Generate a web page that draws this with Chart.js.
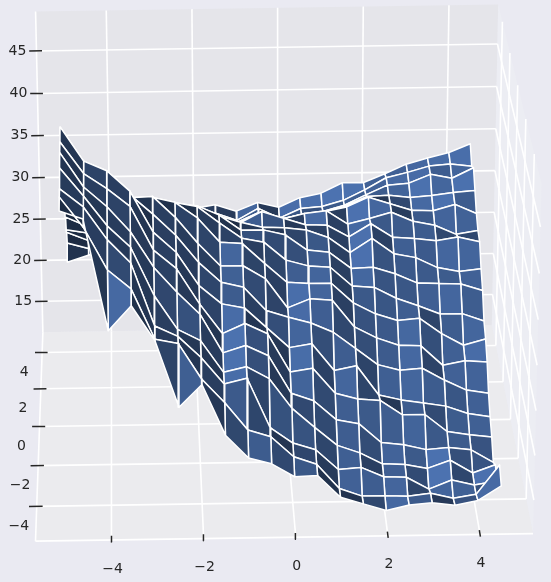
<!DOCTYPE html>
<html>
<head>
<meta charset="utf-8">
<title>Surface</title>
<style>
  html, body { margin: 0; padding: 0; background: #eaeaf2; }
  canvas { display: block; }
</style>
<script src="https://cdn.jsdelivr.net/npm/chart.js@4"></script>
</head>
<body>
<canvas id="chart" width="551" height="582"></canvas>
<script>
const xValues = [-5, -4.5, -4, -3.5, -3, -2.5, -2, -1.5, -1, -0.5, 0, 0.5, 1, 1.5, 2, 2.5, 3, 3.5, 4, 4.5];
const yValues = [-5, -4.5, -4, -3.5, -3, -2.5, -2, -1.5, -1, -0.5, 0, 0.5, 1, 1.5, 2, 2.5, 3, 3.5, 4, 4.5];
// one row per y value, front to back
const zValues = [
  [46.2,45.3,33.1,35.8,31.9,24.5,27.0,21.3,18.7,18.0,16.5,16.6,14.1,13.3,12.5,13.1,13.3,13.0,13.5,15.1],
  [46.7,43.4,38.7,36.6,31.0,30.5,26.5,23.8,20.7,19.9,17.6,16.7,13.9,13.0,13.0,12.9,13.2,12.6,13.0,16.3],
  [46.6,44.6,41.0,38.4,31.4,30.2,27.8,24.8,25.4,19.8,18.0,17.2,14.9,15.1,14.0,13.9,12.5,13.5,12.9,13.3],
  [47.9,44.8,41.5,39.1,33.7,29.9,28.6,25.0,25.6,24.2,20.8,18.6,16.5,15.6,14.3,14.2,13.7,14.6,13.1,14.0],
  [48.6,44.8,42.6,39.8,35.8,33.0,30.5,26.1,26.9,25.7,21.4,20.5,18.3,17.8,15.6,15.3,14.7,14.9,14.6,13.1],
  [48.8,45.3,43.6,41.6,36.7,34.6,30.6,27.2,28.3,27.1,22.7,23.1,20.2,19.5,19.3,17.6,17.6,15.6,15.2,14.9],
  [49.5,45.7,44.6,42.3,37.7,35.4,31.6,29.5,29.0,26.7,24.4,24.8,21.7,22.2,18.8,18.2,17.8,17.4,16.5,16.1],
  [47.7,43.9,43.3,40.9,38.7,36.3,33.2,30.9,30.3,27.6,26.8,26.1,25.0,23.1,21.2,20.5,20.7,19.3,18.1,17.7],
  [45.8,42.0,41.2,39.6,39.7,37.3,34.3,31.7,31.7,30.2,26.8,27.8,27.6,24.5,23.2,22.3,22.2,19.9,20.4,20.2],
  [43.7,40.1,38.4,37.8,38.6,38.0,36.2,33.4,33.2,30.9,28.7,28.5,28.5,26.2,24.9,24.1,24.3,22.5,21.1,21.8],
  [41.6,38.1,36.5,36.0,37.0,37.0,36.5,34.6,32.8,32.3,30.2,29.5,29.3,27.1,26.9,25.6,24.7,23.7,23.7,22.8],
  [39.1,35.9,34.7,34.3,35.6,35.8,35.6,34.5,32.7,32.7,32.1,30.3,30.0,28.1,28.2,27.4,26.3,26.2,26.1,25.3],
  [36.7,34.1,32.9,32.8,34.2,34.6,34.6,33.4,32.6,32.0,31.9,31.6,30.7,28.9,30.5,28.7,28.2,27.0,26.5,26.8],
  [34.6,32.4,31.2,31.5,32.9,33.5,33.6,32.3,31.5,32.8,32.0,31.2,31.1,29.7,31.2,29.6,29.4,29.1,29.5,28.9],
  [32.3,30.9,29.7,30.2,31.6,32.4,32.5,31.2,30.5,31.6,30.9,31.5,31.8,30.2,30.8,31.5,30.4,29.9,28.8,29.2],
  [30.5,29.4,28.2,29.0,30.3,31.3,31.4,30.2,29.5,30.6,29.9,30.4,30.7,31.2,32.3,31.5,30.7,30.6,31.3,30.2],
  [28.0,27.6,26.9,27.7,29.1,30.1,30.4,29.3,28.5,29.6,28.9,29.4,29.7,30.3,31.4,31.5,31.2,31.4,31.7,31.9],
  [26.7,25.7,25.7,26.6,27.9,28.9,29.3,28.4,27.6,28.7,27.8,28.4,28.7,29.4,30.6,31.7,31.9,32.9,32.4,33.6],
  [24.4,23.7,24.3,25.3,26.6,27.8,28.3,27.7,26.8,28.2,27.0,28.1,28.3,29.0,30.2,31.6,32.2,32.9,33.1,32.8],
  [21.1,21.9,23.0,24.2,25.4,26.5,27.3,27.7,26.9,27.9,27.3,28.4,28.9,30.1,30.1,31.1,32.2,32.9,33.5,34.5]
];
const xTicks = [-4, -2, 0, 2, 4];
const yTicks = [-4, -2, 0, 2, 4];
const zTicks = [15, 20, 25, 30, 35, 40, 45];
const xLim = [-5.65, 5.15];
const yLim = [-5.65, 5.15];
const zLim = [11.2, 49.6];

// camera fitted to the picture
function project(x, y, z) {
  const dy = y + 5.5;
  const dz = z - zLim[0];
  const w = 1 + 0.01 * dy - 0.00085 * dz;
  return {
    x: (295.5 + 46 * x + 1.11 * dy - 0.24 * dz) / w,
    y: (534 - 0.7 * x - 16 * dy - 9.25 * dz) / w
  };
}
function depth(x, y, z) {
  return 0.01 * (y + 5.5) - 0.00085 * (z - zLim[0]);
}

const BASE_RGB = [76, 114, 176];
const LIGHT = [-0.667, -0.667, 0.333];

function cellColor(r, c) {
  const dx = xValues[c + 1] - xValues[c];
  const dy = yValues[r + 1] - yValues[r];
  const a = [dx, dy, zValues[r + 1][c + 1] - zValues[r][c]];
  const b = [-dx, dy, zValues[r + 1][c] - zValues[r][c + 1]];
  const n = [a[1] * b[2] - a[2] * b[1], a[2] * b[0] - a[0] * b[2], a[0] * b[1] - a[1] * b[0]];
  const len = Math.hypot(n[0], n[1], n[2]);
  const shade = (n[0] * LIGHT[0] + n[1] * LIGHT[1] + n[2] * LIGHT[2]) / len;
  const k = 0.3 + 0.7 * (shade + 1) / 2;
  return `rgb(${BASE_RGB.map(v => Math.round(v * k)).join(',')})`;
}

function polyData(pts) {
  return pts.map(p => project(p[0], p[1], p[2]));
}
function shapeSet(pts, fillColor, lineColor, lineWidth) {
  return {
    data: polyData(pts),
    showLine: true,
    fill: fillColor ? 'shape' : false,
    backgroundColor: fillColor || 'transparent',
    borderColor: lineColor || 'transparent',
    borderWidth: lineWidth,
    borderJoinStyle: 'round',
    pointRadius: 0,
    tension: 0
  };
}

function buildDatasets() {
  const [x0, x1] = xLim, [y0, y1] = yLim, [z0, z1] = zLim;
  const sets = [];
  // panes
  sets.push(shapeSet([[x0, y1, z0], [x1, y1, z0], [x1, y1, z1], [x0, y1, z1], [x0, y1, z0]], '#e5e5ea', null, 0));
  sets.push(shapeSet([[x1, y0, z0], [x1, y1, z0], [x1, y1, z1], [x1, y0, z1], [x1, y0, z0]], '#ecedf3', null, 0));
  sets.push(shapeSet([[x0, y0, z0], [x1, y0, z0], [x1, y1, z0], [x0, y1, z0], [x0, y0, z0]], '#ebebee', null, 0));
  // grid
  const grid = (a, b) => sets.push(shapeSet([a, b], null, '#ffffff', 1.6));
  xTicks.forEach(x => {
    grid([x, y0, z0], [x, y1, z0]);
    grid([x, y1, z0], [x, y1, z1]);
  });
  yTicks.forEach(y => {
    grid([x0, y, z0], [x1, y, z0]);
    grid([x1, y, z0], [x1, y, z1]);
  });
  zTicks.forEach(z => {
    grid([x0, y1, z], [x1, y1, z]);
    grid([x1, y1, z], [x1, y0, z]);
  });
  // axis lines
  grid([x0, y0, z0], [x1, y0, z0]);
  grid([x0, y0, z0], [x0, y1, z0]);
  grid([x0, y1, z0], [x0, y1, z1]);
  // tick marks
  const tick = (a, b) => sets.push(shapeSet([a, b], null, '#262626', 1.5));
  xTicks.forEach(x => tick([x, y0 - 0.1, z0], [x, y0 + 0.2, z0]));
  yTicks.forEach(y => tick([x0 - 0.17, y, z0], [x0 + 0.13, y, z0]));
  zTicks.forEach(z => tick([x0 - 0.17, y1, z], [x0 + 0.13, y1, z]));
  // surface cells, far ones painted first
  const cells = [];
  for (let r = 0; r < yValues.length - 1; r++) {
    for (let c = 0; c < xValues.length - 1; c++) {
      const corners = [[c, r], [c + 1, r], [c + 1, r + 1], [c, r + 1]].map(([i, j]) => [xValues[i], yValues[j], zValues[j][i]]);
      const d = corners.reduce((s, p) => s + depth(p[0], p[1], p[2]), 0) / 4;
      cells.push({ d, corners, color: cellColor(r, c) });
    }
  }
  cells.sort((a, b) => b.d - a.d);
  cells.forEach(cell => {
    sets.push(shapeSet(cell.corners.concat([cell.corners[0]]), cell.color, '#ffffff', 1.5));
  });
  // chart.js paints the first dataset last
  return sets.reverse();
}

function fmt(v) {
  return String(v).replace('-', '\u2212');
}

const tickLabels = {
  id: 'tickLabels',
  afterDraw(chart) {
    const { ctx, scales } = chart;
    const put = (text, p, ox, oy) => {
      ctx.fillText(text, scales.x.getPixelForValue(p.x) + ox, scales.y.getPixelForValue(p.y) + oy);
    };
    ctx.save();
    ctx.font = '14px "DejaVu Sans"';
    ctx.fillStyle = '#262626';
    ctx.textAlign = 'center';
    ctx.textBaseline = 'middle';
    xTicks.forEach(x => put(fmt(x), project(x, yLim[0], zLim[0]), 1, 29));
    yTicks.forEach(y => put(fmt(y), project(xLim[0], y, zLim[0]), -18, 20));
    zTicks.forEach(z => put(fmt(z), project(xLim[0], yLim[1], z), -19, 0));
    ctx.restore();
  }
};

new Chart(document.getElementById('chart'), {
  type: 'scatter',
  data: { datasets: buildDatasets() },
  options: {
    responsive: false,
    animation: false,
    layout: { padding: 0 },
    scales: {
      x: { type: 'linear', min: 0, max: 551, display: false },
      y: { type: 'linear', min: 0, max: 582, reverse: true, display: false }
    },
    plugins: { legend: { display: false }, tooltip: { enabled: false }, title: { display: false } }
  },
  plugins: [tickLabels]
});
</script>
</body>
</html>
